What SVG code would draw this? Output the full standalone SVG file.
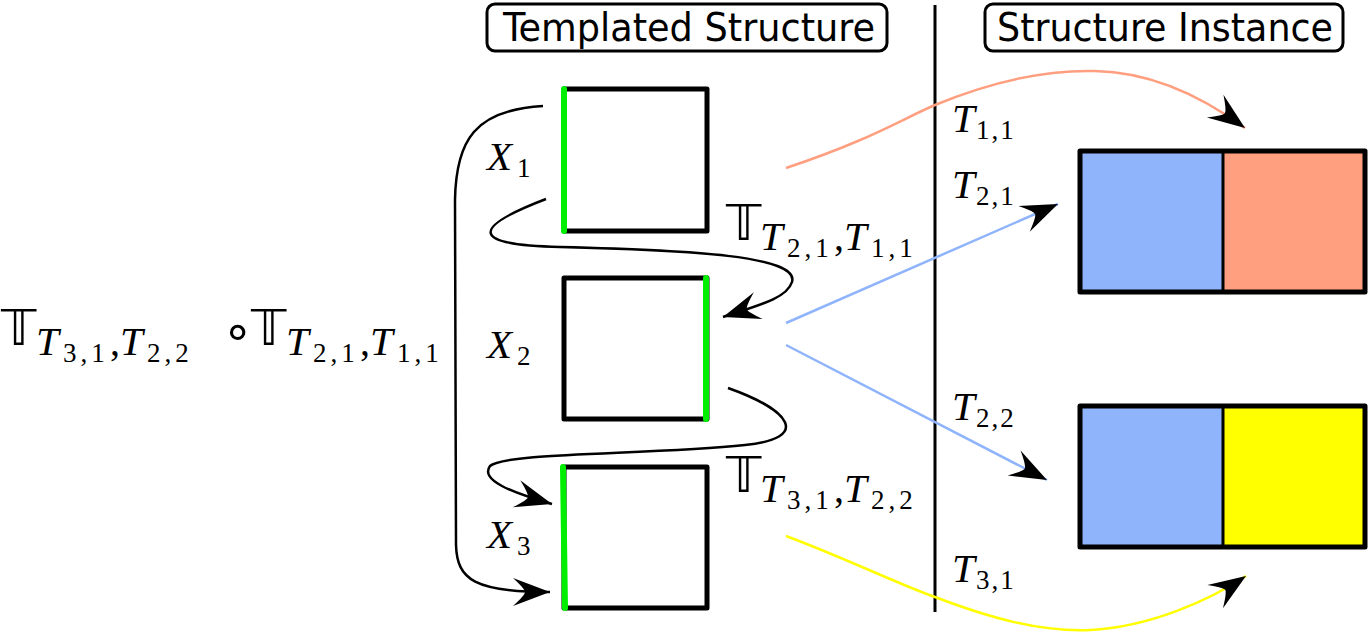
<svg xmlns="http://www.w3.org/2000/svg" width="1369" height="636" viewBox="0 0 1369 636">
<defs>
<style>
.hdr{fill:#fff;stroke:#000;stroke-width:3}
.ht{font-family:"DejaVu Sans Condensed","DejaVu Sans",sans-serif;font-stretch:condensed;font-size:39px;fill:#000}
.tb{fill:none;stroke:#000;stroke-width:5;stroke-linejoin:round}
.gr{stroke:#00ee00;stroke-width:6;stroke-linecap:round;fill:none}
.blk{fill:none;stroke:#000;stroke-width:2.5}
.m{font-family:"Liberation Serif","DejaVu Serif",serif;fill:#000}
.it{font-style:italic;font-size:41px}
.s{font-style:normal;font-size:27px;letter-spacing:2px}
.s2{font-style:normal;font-size:27px;letter-spacing:4px}
.bb{font-family:"DejaVu Sans","DejaVu Serif","Noto Sans",sans-serif;font-style:normal;font-size:50px}
.cm{font-size:40px;font-style:normal}
.ring{font-family:"DejaVu Sans",sans-serif;font-size:50px;font-style:normal}
</style>
<marker id="ah" markerUnits="userSpaceOnUse" markerWidth="44" markerHeight="34" viewBox="-40 -17 44 34" refX="0" refY="0" orient="auto">
<path d="M0,0 L-37,-14 Q-25,-3 -25,0 Q-25,3 -37,14 Z" fill="#000"/>
</marker>
</defs>
<rect width="1369" height="636" fill="#fff"/>

<g id="header-templated">
<rect class="hdr" x="487" y="4" width="400" height="47" rx="8"/>
<text class="ht" x="503" y="41" textLength="372" lengthAdjust="spacingAndGlyphs">Templated Structure</text>
</g>
<g id="header-instance">
<rect class="hdr" x="985" y="4" width="358" height="47" rx="8"/>
<text class="ht" x="997" y="41" textLength="336" lengthAdjust="spacingAndGlyphs">Structure Instance</text>
</g>
<g id="divider">
<line x1="935" y1="5" x2="935" y2="612" stroke="#000" stroke-width="3"/>
</g>

<g id="box-x1">
<rect class="tb" x="564" y="89" width="143" height="142"/>
<line class="gr" x1="564" y1="89" x2="564" y2="231"/>
<text class="m" x="487" y="170"><tspan class="it">X</tspan><tspan class="s" x="517" y="177">1</tspan></text>
</g>
<g id="box-x2">
<rect class="tb" x="564" y="278" width="143" height="141"/>
<line class="gr" x1="706" y1="278" x2="706" y2="419"/>
<text class="m" x="487" y="358"><tspan class="it">X</tspan><tspan class="s" x="517" y="365">2</tspan></text>
</g>
<g id="box-x3">
<rect class="tb" x="564" y="467" width="143" height="141"/>
<line class="gr" x1="563" y1="467" x2="565" y2="608"/>
<text class="m" x="487" y="548"><tspan class="it">X</tspan><tspan class="s" x="517" y="555">3</tspan></text>
</g>

<g id="instance-1">
<rect x="1080" y="151" width="143" height="141" fill="#8fb4fc"/>
<rect x="1223" y="151" width="142" height="141" fill="#ff9f80"/>
<rect class="tb" x="1080" y="151" width="285" height="141"/>
<line x1="1223" y1="151" x2="1223" y2="292" stroke="#000" stroke-width="3"/>
</g>
<g id="instance-2">
<rect x="1080" y="406" width="143" height="141" fill="#8fb4fc"/>
<rect x="1223" y="406" width="142" height="141" fill="#ffff00"/>
<rect class="tb" x="1080" y="406" width="285" height="141"/>
<line x1="1223" y1="406" x2="1223" y2="547" stroke="#000" stroke-width="3"/>
</g>

<g id="connectors">
<path d="M786,168 C870,140 900,120 935,105 C1000,78 1050,70 1095,71 C1150,72 1200,95 1245,128" fill="none" stroke="#ff9f80" stroke-width="2.5" marker-end="url(#ah)"/>
<path d="M786,323 L1058,204" fill="none" stroke="#8fb4fc" stroke-width="2.5" marker-end="url(#ah)"/>
<path d="M786,345 L1047,480" fill="none" stroke="#8fb4fc" stroke-width="2.5" marker-end="url(#ah)"/>
<path d="M786,536 C850,560 900,585 935,597 C990,618 1040,632 1090,630 C1150,627 1210,600 1246,576" fill="none" stroke="#ffff00" stroke-width="2.5" marker-end="url(#ah)"/>
<path class="blk" d="M546,199 C470,228 470,245 560,247 C690,250 800,256 792,282 C787,298 760,305 723,317" marker-end="url(#ah)"/>
<path class="blk" d="M728,388 C790,410 812,438 745,445 C650,455 505,452 490,466 C480,480 510,492 552,504" marker-end="url(#ah)"/>
<path class="blk" d="M543,106 C475,110 456,140 455,200 L456,545 C457,580 475,592 550,592" marker-end="url(#ah)"/>
</g>

<g id="labels">
<text class="m" x="952" y="132"><tspan class="it">T</tspan><tspan class="s" x="976" y="139">1,1</tspan></text>
<text class="m" x="952" y="198"><tspan class="it">T</tspan><tspan class="s" x="976" y="205">2,1</tspan></text>
<text class="m" x="952" y="420"><tspan class="it">T</tspan><tspan class="s" x="976" y="427">2,2</tspan></text>
<text class="m" x="952" y="582"><tspan class="it">T</tspan><tspan class="s" x="976" y="589">3,1</tspan></text>

<text class="m" x="726" y="240"><tspan class="bb">𝕋</tspan><tspan class="it" x="760" y="250">T</tspan><tspan class="s2" x="787" y="257">2,1</tspan><tspan class="cm" x="834" y="250">,</tspan><tspan class="it" x="844" y="250">T</tspan><tspan class="s2" x="871" y="257">1,1</tspan></text>
<text class="m" x="726" y="492"><tspan class="bb">𝕋</tspan><tspan class="it" x="760" y="502">T</tspan><tspan class="s2" x="787" y="509">3,1</tspan><tspan class="cm" x="834" y="502">,</tspan><tspan class="it" x="844" y="502">T</tspan><tspan class="s2" x="871" y="509">2,2</tspan></text>

<text class="m" x="1" y="345"><tspan class="bb">𝕋</tspan><tspan class="it" x="36" y="355">T</tspan><tspan class="s2" x="63" y="362">3,1</tspan><tspan class="cm" x="110" y="355">,</tspan><tspan class="it" x="120" y="355">T</tspan><tspan class="s2" x="147" y="362">2,2</tspan><tspan class="ring" x="222" y="348">∘</tspan><tspan class="bb" x="251" y="345">𝕋</tspan><tspan class="it" x="286" y="355">T</tspan><tspan class="s2" x="313" y="362">2,1</tspan><tspan class="cm" x="360" y="355">,</tspan><tspan class="it" x="370" y="355">T</tspan><tspan class="s2" x="397" y="362">1,1</tspan></text>
</g>
</svg>
